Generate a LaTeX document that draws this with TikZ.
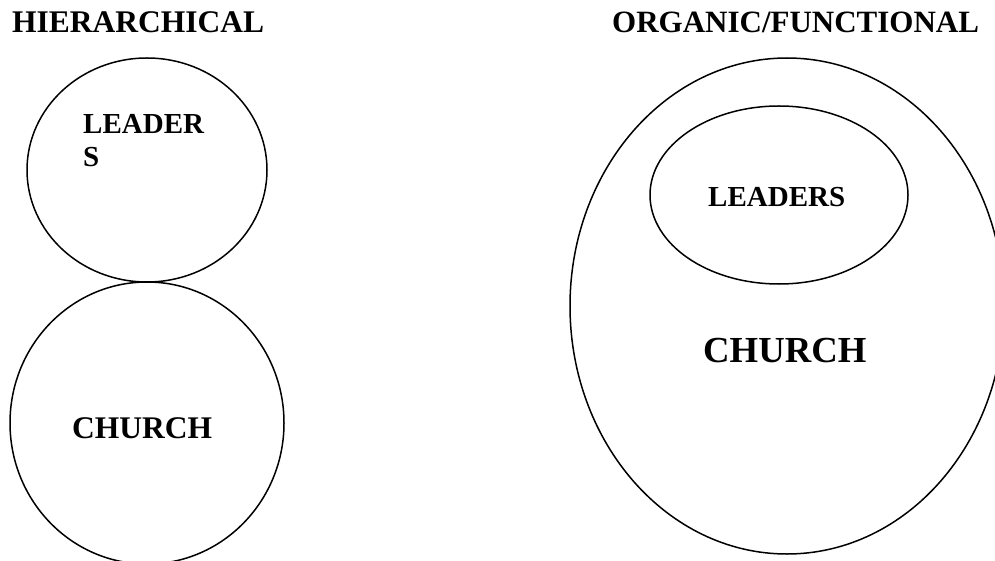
\documentclass[tikz,border=0pt]{standalone}
\usepackage{fontspec}
\setmainfont{Liberation Serif}
\begin{document}
\begin{tikzpicture}[x=1pt,y=-1pt,
  ring/.style={draw=black,line width=1.5pt},
  lbl/.style={inner sep=0pt,anchor=base west,font=\bfseries}]
\useasboundingbox (0,0) rectangle (995,561);
\fill[white] (0,0) rectangle (995,561);
% titles
\node[lbl,font=\bfseries\fontsize{31.5}{36}\selectfont] (t1) at (12,33) {HIERARCHICAL};
\node[lbl,font=\bfseries\fontsize{31}{36}\selectfont] (t2) at (612,33) {ORGANIC/FUNCTIONAL};
% hierarchical
\draw[ring] (147,170) ellipse [x radius=120pt, y radius=112pt];
\draw[ring] (147,423) ellipse [x radius=137pt, y radius=141pt];
\node[lbl,align=left,font=\bfseries\fontsize{29}{33}\selectfont] (lead1) at (83,167) {LEADER\\S};
\node[lbl,font=\bfseries\fontsize{31.5}{36}\selectfont] (church1) at (72,438) {CHURCH};
% organic
\draw[ring] (787,306) ellipse [x radius=217pt, y radius=248pt];
\draw[ring] (779,195) ellipse [x radius=129pt, y radius=89pt];
\node[lbl,font=\bfseries\fontsize{29}{33}\selectfont] (lead2) at (708,207) {LEADERS};
\node[lbl,font=\bfseries\fontsize{36.7}{42}\selectfont] (church2) at (703,362) {CHURCH};
\end{tikzpicture}
\end{document}
